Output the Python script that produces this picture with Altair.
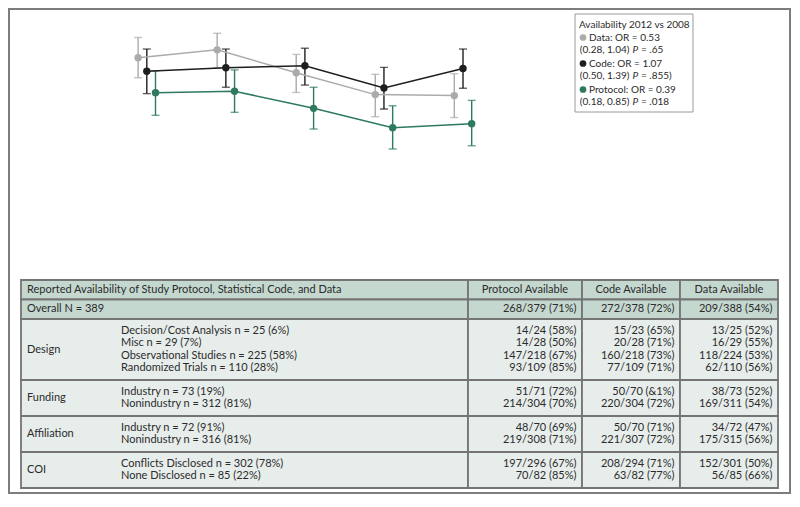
import altair as alt
import pandas as pd

# ---------------- data ----------------
years = [2008, 2009, 2010, 2011, 2012]
series = ["Data", "Code", "Protocol"]
series_colors = ["#ababab", "#1e1e1e", "#2d7a5e"]

data_est = [79.0, 83.0, 71.5, 60.5, 60.0]
data_lo = [69.0, 74.0, 61.6, 49.4, 49.0]
data_hi = [89.2, 91.3, 80.7, 70.7, 71.0]

code_est = [72.2, 74.0, 75.0, 63.8, 73.6]
code_lo = [61.0, 64.2, 65.3, 53.3, 63.7]
code_hi = [83.4, 83.4, 83.8, 74.2, 83.4]

prot_est = [61.5, 62.2, 53.6, 43.9, 45.9]
prot_lo = [50.1, 51.6, 43.2, 33.2, 34.8]
prot_hi = [72.5, 72.9, 64.2, 54.9, 57.6]

legend_title = "Availability 2012 vs 2008"
legend_first = ["Data: OR = 0.53", "Code: OR = 1.07", "Protocol: OR = 0.39"]
legend_ci = ["(0.28, 1.04)", "(0.50, 1.39)", "(0.18, 0.85)"]
legend_p = ["= .65", "= .855)", "= .018"]

table_title = "Reported Availability of Study Protocol, Statistical Code, and Data"
col_headers = ["Protocol Available", "Code Available", "Data Available"]
overall_label = "Overall N = 389"
overall_vals = ["268/379 (71%)", "272/378 (72%)", "209/388 (54%)"]
groups = ["Design", "Funding", "Affiliation", "COI"]
sub_labels = [
    ["Decision/Cost Analysis n = 25 (6%)", "Misc n = 29 (7%)",
     "Observational Studies n = 225 (58%)", "Randomized Trials n = 110 (28%)"],
    ["Industry n = 73 (19%)", "Nonindustry n = 312 (81%)"],
    ["Industry n = 72 (91%)", "Nonindustry n = 316 (81%)"],
    ["Conflicts Disclosed n = 302 (78%)", "None Disclosed n = 85 (22%)"],
]
protocol_vals = [
    ["14/24 (58%)", "14/28 (50%)", "147/218 (67%)", "93/109 (85%)"],
    ["51/71 (72%)", "214/304 (70%)"],
    ["48/70 (69%)", "219/308 (71%)"],
    ["197/296 (67%)", "70/82 (85%)"],
]
code_vals = [
    ["15/23 (65%)", "20/28 (71%)", "160/218 (73%)", "77/109 (71%)"],
    ["50/70 (&1%)", "220/304 (72%)"],
    ["50/70 (71%)", "221/307 (72%)"],
    ["208/294 (71%)", "63/82 (77%)"],
]
data_vals = [
    ["13/25 (52%)", "16/29 (55%)", "118/224 (53%)", "62/110 (56%)"],
    ["38/73 (52%)", "169/311 (54%)"],
    ["34/72 (47%)", "175/315 (56%)"],
    ["152/301 (50%)", "56/85 (66%)"],
]

# ---------------- layout ----------------
FONT = "Lato"
TXT = "#2b2b2b"
PLOT_W, PLOT_H = 332, 206
PAD = {"left": 123, "top": 8, "right": 329, "bottom": 272}
X_OFF = {"Data": -0.11, "Code": 0.0, "Protocol": 0.11}
X_DOM = [2007.8, 2012]
Y_DOM = [-3.5, 100]
PLOT_LEFT, PLOT_TOP = 131, 16   # page position of the plot origin

# page-pixel layout of the table / legend / frame, converted to the chart's data units
KX = PLOT_W / (X_DOM[1] - X_DOM[0])
KY = PLOT_H / (Y_DOM[1] - Y_DOM[0])

def ux(p):
    return X_DOM[0] + (p - PLOT_LEFT) / KX

def uy(p):
    return Y_DOM[1] - (p - PLOT_TOP) / KY

COL_EDGES = [21, 468, 582, 680, 778]
CAT_X, SUB_X = 27, 121
TABLE_TOP, HEAD_H, LINE_H, ROW_PAD = 280, 19.5, 12.5, 5.5
TABLE_FS = 11
FRAME = (9, 9, 790, 493)
LEG_BOX = (575, 14, 693, 112)

xs = alt.Scale(domain=X_DOM, nice=False, zero=False)
ys = alt.Scale(domain=Y_DOM, nice=False, zero=False)

xax = alt.Axis(values=years, format="d", title="Year", orient="bottom", grid=False, zindex=1,
               tickSize=4, labelPadding=2, titlePadding=4, domainColor="#8a8a8a",
               tickColor="#8a8a8a", labelColor="#333", titleColor="#333",
               labelFontSize=9.5, titleFontSize=11, labelFont=FONT, titleFont=FONT,
               titleFontWeight="normal")
yax = alt.Axis(values=[0, 20, 40, 60, 80, 100], title="Availability", orient="left",
               grid=False, zindex=1, tickSize=4, labelPadding=1, titlePadding=3,
               domainColor="#8a8a8a", tickColor="#8a8a8a", labelColor="#333",
               titleColor="#333", labelFontSize=9.5, titleFontSize=11,
               labelFont=FONT, titleFont=FONT, titleFontWeight="normal")

def pos(x="x", y="y"):
    return dict(x=alt.X(f"{x}:Q", scale=xs, axis=None), y=alt.Y(f"{y}:Q", scale=ys, axis=None))

def conv(recs):
    out = []
    for r in recs:
        r = dict(r)
        for k in ("x", "x2"):
            if k in r:
                r[k] = ux(r[k])
        for k in ("y", "y2"):
            if k in r:
                r[k] = uy(r[k])
        out.append(r)
    return pd.DataFrame(out)

def text_layer(recs, align, size=10, style="normal", color=TXT):
    return alt.Chart(conv(recs)).mark_text(
        align=align, baseline="middle", font=FONT, fontSize=size, fontStyle=style,
        color=color).encode(text="t:N", **pos())

# frame (white page with grey border, drawn first; carries the shared axes)
frame = alt.Chart(conv([dict(x=FRAME[0], y=FRAME[1], x2=FRAME[2], y2=FRAME[3])])).mark_rect(
    fill="white", stroke="#7d7d7d", strokeWidth=2).encode(
    x=alt.X("x:Q", scale=xs, axis=xax), y=alt.Y("y:Q", scale=ys, axis=yax),
    x2="x2:Q", y2="y2:Q")

# ---------------- line chart ----------------
rows = []
for s, est, lo, hi in zip(series, [data_est, code_est, prot_est],
                          [data_lo, code_lo, prot_lo], [data_hi, code_hi, prot_hi]):
    for yr, e, l, h in zip(years, est, lo, hi):
        rows.append(dict(series=s, year=yr, xpos=yr + X_OFF[s], est=e, lo=l, hi=h))
df = pd.DataFrame(rows)
caps = pd.concat([
    df[["series", "xpos"]].assign(v=df["lo"]),
    df[["series", "xpos"]].assign(v=df["hi"]),
])

color = alt.Color("series:N", scale=alt.Scale(domain=series, range=series_colors), legend=None)

base = alt.Chart(df)
rules = base.mark_rule(strokeWidth=1.4).encode(
    x=alt.X("xpos:Q", scale=xs, axis=xax),
    y=alt.Y("lo:Q", scale=ys, axis=yax), y2="hi:Q", color=color)
capm = alt.Chart(caps).mark_tick(orient="horizontal", size=8, thickness=1.4).encode(
    x=alt.X("xpos:Q", scale=xs, axis=None), y=alt.Y("v:Q", scale=ys, axis=None), color=color)
lines = base.mark_line(strokeWidth=1.5).encode(
    x=alt.X("xpos:Q", scale=xs, axis=None), y=alt.Y("est:Q", scale=ys, axis=None),
    color=color, detail="series:N", order="year:Q")
points = base.mark_point(filled=True, size=55, opacity=1).encode(
    x=alt.X("xpos:Q", scale=xs, axis=None), y=alt.Y("est:Q", scale=ys, axis=None), color=color)
line_layers = [rules, capm, lines, points]

# ---------------- table ----------------
head_cells, body_cells = [], []
left_t, right_t, center_t = [], [], []

def add_cells(y0, y1, target):
    for c in range(4):
        target.append(dict(x=COL_EDGES[c], x2=COL_EDGES[c + 1], y=y0, y2=y1))

y0 = TABLE_TOP
y1 = y0 + HEAD_H
add_cells(y0, y1, head_cells)
left_t.append(dict(x=CAT_X, y=(y0 + y1) / 2, t=table_title))
for c, h in enumerate(col_headers):
    center_t.append(dict(x=(COL_EDGES[c + 1] + COL_EDGES[c + 2]) / 2, y=(y0 + y1) / 2, t=h))
y0 = y1
y1 = y0 + HEAD_H
add_cells(y0, y1, head_cells)
left_t.append(dict(x=CAT_X, y=(y0 + y1) / 2, t=overall_label))
for c, v in enumerate(overall_vals):
    right_t.append(dict(x=COL_EDGES[c + 2] - 5.5, y=(y0 + y1) / 2, t=v))
y0 = y1
for g, subs, pv, cv, dv in zip(groups, sub_labels, protocol_vals, code_vals, data_vals):
    n = len(subs)
    y1 = y0 + 2 * ROW_PAD + n * LINE_H
    add_cells(y0, y1, body_cells)
    left_t.append(dict(x=CAT_X, y=(y0 + y1) / 2, t=g))
    for i in range(n):
        yy = y0 + ROW_PAD + LINE_H * (i + 0.5)
        left_t.append(dict(x=SUB_X, y=yy, t=subs[i]))
        for c, vals in enumerate([pv, cv, dv]):
            right_t.append(dict(x=COL_EDGES[c + 2] - 5.5, y=yy, t=vals[i]))
    y0 = y1

def cell_layer(cells, fill):
    return alt.Chart(conv(cells)).mark_rect(
        fill=fill, stroke="#747474", strokeWidth=1.8).encode(x2="x2:Q", y2="y2:Q", **pos())

table = [cell_layer(head_cells, "#c5d8d0"), cell_layer(body_cells, "#e7edeb"),
         text_layer(left_t, "left", TABLE_FS), text_layer(right_t, "right", TABLE_FS),
         text_layer(center_t, "center", TABLE_FS)]

# ---------------- legend ----------------
leg_box = alt.Chart(conv([dict(x=LEG_BOX[0], y=LEG_BOX[1], x2=LEG_BOX[2], y2=LEG_BOX[3])])).mark_rect(
    fill="white", stroke="#9a9a9a", strokeWidth=1).encode(x2="x2:Q", y2="y2:Q", **pos())
leg_title = text_layer([dict(x=579, y=25, t=legend_title)], "left")
sym_rows, l1, l2a, l2p, l2b = [], [], [], [], []
for i, s in enumerate(series):
    yA = 37.5 + 26 * i
    yB = yA + 12.8
    sym_rows.append(dict(x=583, y=yA, series=s))
    l1.append(dict(x=589, y=yA, t=legend_first[i]))
    l2a.append(dict(x=629.5, y=yB, t=legend_ci[i]))
    l2p.append(dict(x=632.5, y=yB, t="P"))
    l2b.append(dict(x=641, y=yB, t=legend_p[i]))
leg_sym = alt.Chart(conv(sym_rows)).mark_point(filled=True, size=45, opacity=1).encode(
    color=color, **pos())
legend = [leg_box, leg_title, leg_sym, text_layer(l1, "left"), text_layer(l2a, "right"),
          text_layer(l2p, "left", style="italic"), text_layer(l2b, "left")]

chart = alt.layer(frame, *line_layers, *table, *legend).properties(
    width=PLOT_W, height=PLOT_H, padding=PAD, background="white",
    autosize=alt.AutoSizeParams(type="none"),
).configure_view(stroke="transparent", strokeWidth=0)

chart.save("out.html", embed_options={"renderer": "svg", "actions": False})
